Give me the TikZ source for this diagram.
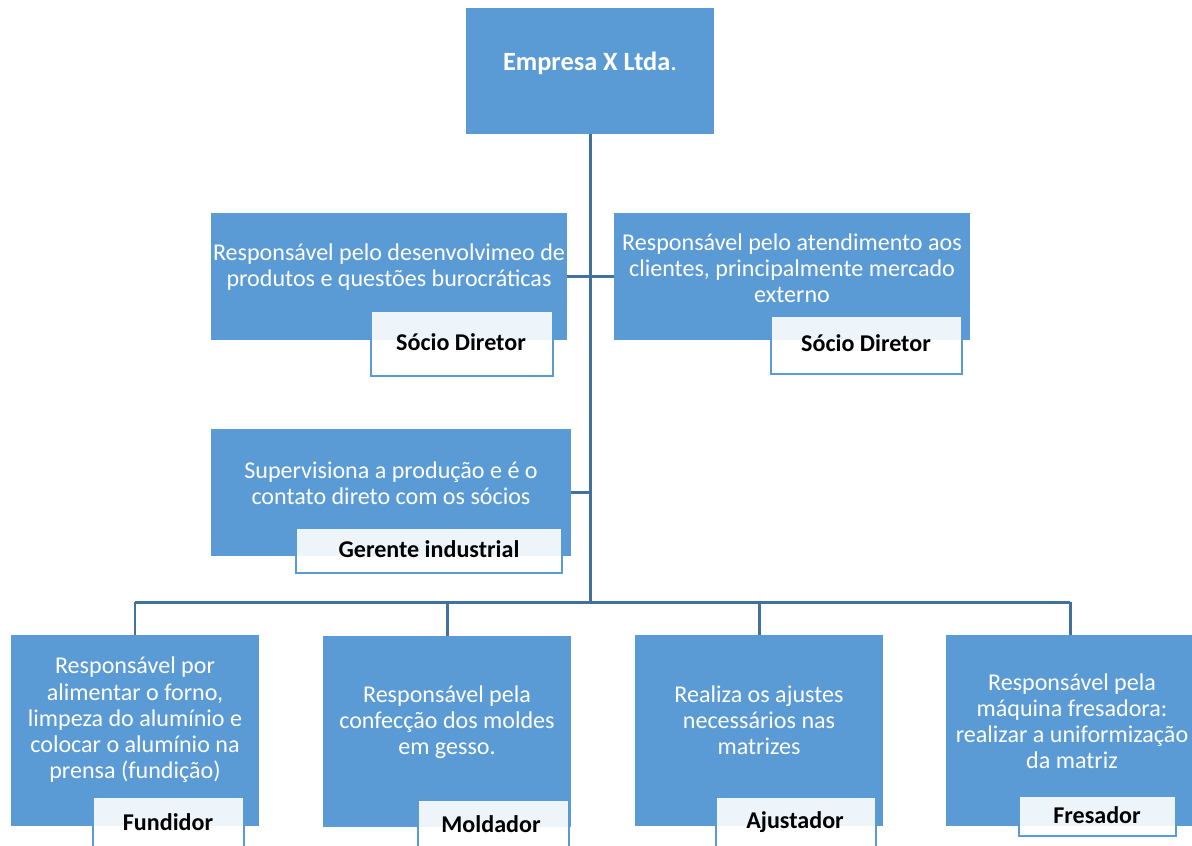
\documentclass[tikz,border=0pt]{standalone}
\usepackage{fontspec}
\setmainfont{Carlito}
\usetikzlibrary{positioning, calc}
\definecolor{boxblue}{RGB}{91,155,213}
\definecolor{linkblue}{RGB}{65,113,156}

\begin{document}
\begin{tikzpicture}[x=0.02cm, y=-0.02cm,
  unit/.style 2 args={rectangle, fill=boxblue, inner sep=0pt,
    minimum width=#1*0.02cm, minimum height=#2*0.02cm},
  tag/.style 2 args={rectangle, draw=boxblue, line width=1.2pt, fill=white,
    fill opacity=0.9, inner sep=0pt,
    minimum width=#1*0.02cm, minimum height=#2*0.02cm},
  desc/.style={text=white, align=center, inner sep=0pt,
    font=\fontsize{13.7}{14.9}\selectfont},
  tagtext/.style={inner sep=0pt, font=\bfseries\fontsize{13.7}{14.9}\selectfont},
  link/.style={draw=linkblue, line width=1.7pt}]
  \useasboundingbox (0,0) rectangle (1192,845);
  \clip (0,0) rectangle (1192,845);

  % boxes
  \node[unit={248}{126}] (firm) at (590,71) {};
  \node[unit={356}{127}] (dirL) at (389,276.5) {};
  \node[unit={356}{127}] (dirR) at (792,276.5) {};
  \node[unit={360}{127}] (ger) at (391,492.5) {};
  \node[unit={248}{191}] (fund) at (135,730.5) {};
  \node[unit={248}{191}] (mold) at (447,731.5) {};
  \node[unit={248}{191}] (ajus) at (759,730.5) {};
  \node[unit={248}{191}] (fres) at (1070,730.5) {};

  % connectors
  \coordinate (bus) at (590,602);
  \draw[link] (firm.south) -- (bus);
  \draw[link] (dirL.east) -- (dirR.west);
  \draw[link] (ger.east) -- (ger.east -| bus);
  \draw[link] (fund.north |- bus) -- (fres.north |- bus);
  \foreach \b in {fund,mold,ajus,fres}
    \draw[link] (\b.north |- bus) -- (\b.north);

  % texts
  \node[desc, font=\bfseries\fontsize{15}{17}\selectfont] (firmT) at (590,63) {Empresa X Ltda\textmd{.}};
  \node[desc] (dirLT) at (389,267) {Responsável pelo desenvolvimeo de\\produtos e questões burocráticas};
  \node[desc] (dirRT) at (792,268) {Responsável pelo atendimento aos\\clientes, principalmente mercado\\externo};
  \node[desc] (gerT) at (391,483) {Supervisiona a produção e é o\\contato direto com os sócios};
  \node[desc] (fundT) at (135,720) {Responsável por\\alimentar o forno,\\limpeza do alumínio e\\colocar o alumínio na\\prensa (fundição)};
  \node[desc] (moldT) at (447,722) {Responsável pela\\confecção dos moldes\\em gesso.};
  \node[desc] (ajusT) at (759,720) {Realiza os ajustes\\necessários nas\\matrizes};
  \node[desc] (fresT) at (1072,721) {Responsável pela\\máquina fresadora:\\realizar a uniformização\\da matriz};

  % role tags
  \node[tag={182}{65}] (dirLtag) at (462,343.5) {};
  \node[tag={191}{58}] (dirRtag) at (866.5,345) {};
  \node[tag={266}{45}] (gertag) at (429,550.5) {};
  \node[tag={151}{60}] (fundtag) at (168.5,827) {};
  \node[tag={151}{60}] (moldtag) at (493.5,830) {};
  \node[tag={160}{60}] (ajustag) at (796,827) {};
  \node[tag={157}{40}] (frestag) at (1097.5,816) {};
  \node[tagtext] at (461,342) {Sócio Diretor};
  \node[tagtext] at (866,343) {Sócio Diretor};
  \node[tagtext] at (429,549) {Gerente industrial};
  \node[tagtext] at (168,822) {Fundidor};
  \node[tagtext] at (491,824) {Moldador};
  \node[tagtext] at (795,822) {Ajustador};
  \node[tagtext] at (1097,815) {Fresador};
\end{tikzpicture}
\end{document}
